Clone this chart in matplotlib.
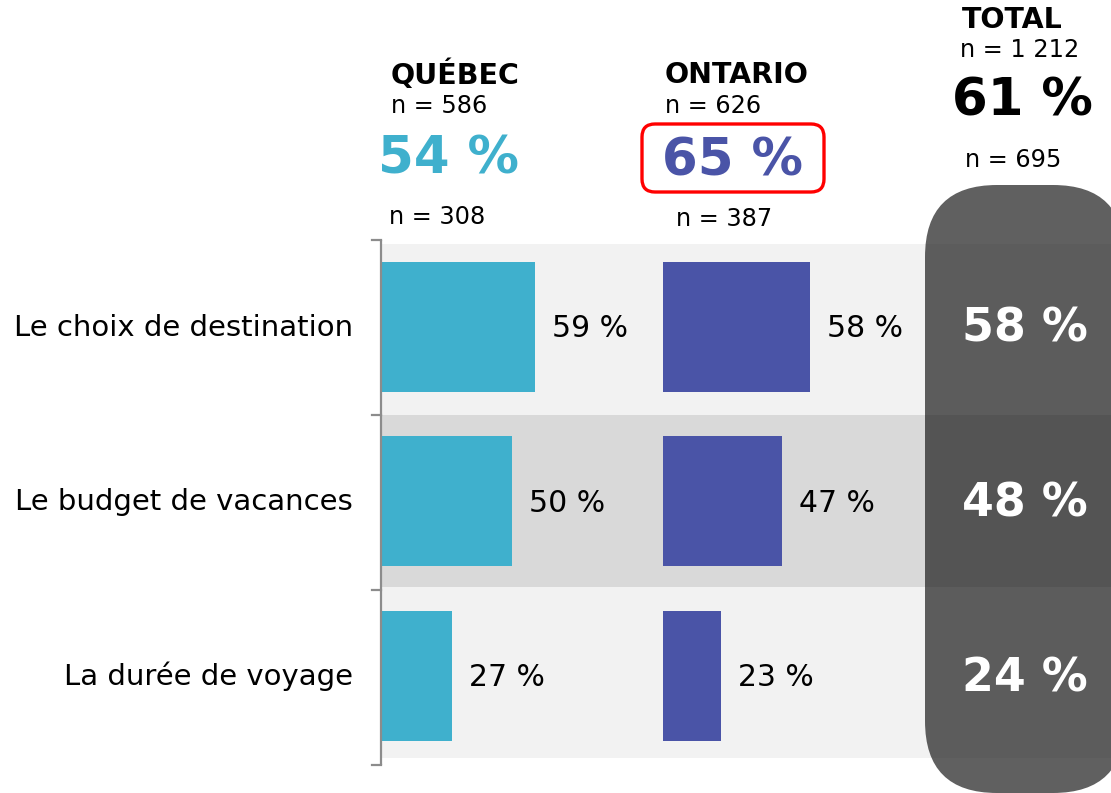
import matplotlib
matplotlib.use('Agg')
import matplotlib.pyplot as plt
from matplotlib.patches import FancyBboxPatch, Rectangle

# survey results, per region
categories = ['Le choix de destination', 'Le budget de vacances', 'La durée de voyage']
quebec = [59, 50, 27]
ontario = [58, 47, 23]
total = [58, 48, 24]

regions = ['QUÉBEC', 'ONTARIO', 'TOTAL']
n_all = ['n = 586', 'n = 626', 'n = 1 212']
share = [54, 65, 61]
n_sub = ['n = 308', 'n = 387', 'n = 695']

CYAN = '#3fb0cd'
BLUE = '#4a54a7'
plt.rcParams['font.family'] = ['DejaVu Sans']

W, H = 1111, 793
fig = plt.figure(figsize=(W / 100, H / 100), dpi=100)
ax = fig.add_axes([0, 0, 1, 1])
ax.set_xlim(0, W)
ax.set_ylim(H, 0)
ax.axis('off')

# row layout (pixel units)
row_top = [244, 415, 587]
row_h = [171, 172, 171]
band_cols = ['#f2f2f2', '#d9d9d9', '#f2f2f2']
yc = [326.5, 501, 675.5]
x0_q, x0_o = 382, 663
sc_q, sc_o = 2.6, 2.53
bar_h = 130

for i, cat in enumerate(categories):
    ax.add_patch(Rectangle((382, row_top[i]), W - 382, row_h[i],
                           facecolor=band_cols[i], edgecolor='none', zorder=0))
    ax.text(353, yc[i] + 1, cat, ha='right', va='center', fontsize=21, color='black')

ax.barh(yc, [v * sc_q for v in quebec], left=x0_q, height=bar_h, color=CYAN, zorder=2)
ax.barh(yc, [v * sc_o for v in ontario], left=x0_o, height=bar_h, color=BLUE, zorder=2)
for i in range(3):
    ax.text(x0_q + quebec[i] * sc_q + 17, yc[i] + 2, f'{quebec[i]} %',
            ha='left', va='center', fontsize=21.5, color='black', zorder=3)
    ax.text(x0_o + ontario[i] * sc_o + 17, yc[i] + 2, f'{ontario[i]} %',
            ha='left', va='center', fontsize=21.5, color='black', zorder=3)

# bracket on the left of the rows
ax.plot([381, 381], [240, 765], color='#8c8c8c', lw=1.6, zorder=3, solid_capstyle='butt')
for yt in [240, 415, 590, 765]:
    ax.plot([372, 381], [yt, yt], color='#8c8c8c', lw=1.6, zorder=3)

# total column
ax.add_patch(FancyBboxPatch((925, 185), 200, 608,
                            boxstyle='round,pad=0,rounding_size=72',
                            facecolor='#1c1c1c', edgecolor='none', alpha=0.7, zorder=4))
for i in range(3):
    ax.text(1025, yc[i] + 3, f'{total[i]} %', ha='center', va='center',
            fontsize=33, fontweight='bold', color='white', zorder=5)

# headers
ax.text(391, 75, regions[0], ha='left', va='center', fontsize=20.5, fontweight='bold')
ax.text(391, 106, n_all[0], ha='left', va='center', fontsize=17.3)
ax.text(448, 160, f'{share[0]} %', ha='center', va='center', fontsize=37,
        fontweight='bold', color=CYAN)
ax.text(389, 217, n_sub[0], ha='left', va='center', fontsize=17.3)

ax.text(665, 75, regions[1], ha='left', va='center', fontsize=20.5, fontweight='bold')
ax.text(665, 106, n_all[1], ha='left', va='center', fontsize=17.3)
ax.text(733, 162, f'{share[1]} %', ha='center', va='center', fontsize=37,
        fontweight='bold', color=BLUE)
ax.add_patch(FancyBboxPatch((642, 124), 182, 68, boxstyle='round,pad=0,rounding_size=13',
                            facecolor='none', edgecolor='#ff0000', lw=2.4, zorder=3))
ax.text(676, 219, n_sub[1], ha='left', va='center', fontsize=17.3)

ax.text(1012, 20, regions[2], ha='center', va='center', fontsize=20.5, fontweight='bold')
ax.text(1020, 50, n_all[2], ha='center', va='center', fontsize=17.3)
ax.text(1022, 101, f'{share[2]} %', ha='center', va='center', fontsize=37,
        fontweight='bold', color='black')
ax.text(1013, 160, n_sub[2], ha='center', va='center', fontsize=17.3)

fig.savefig('out.png', dpi=100)
